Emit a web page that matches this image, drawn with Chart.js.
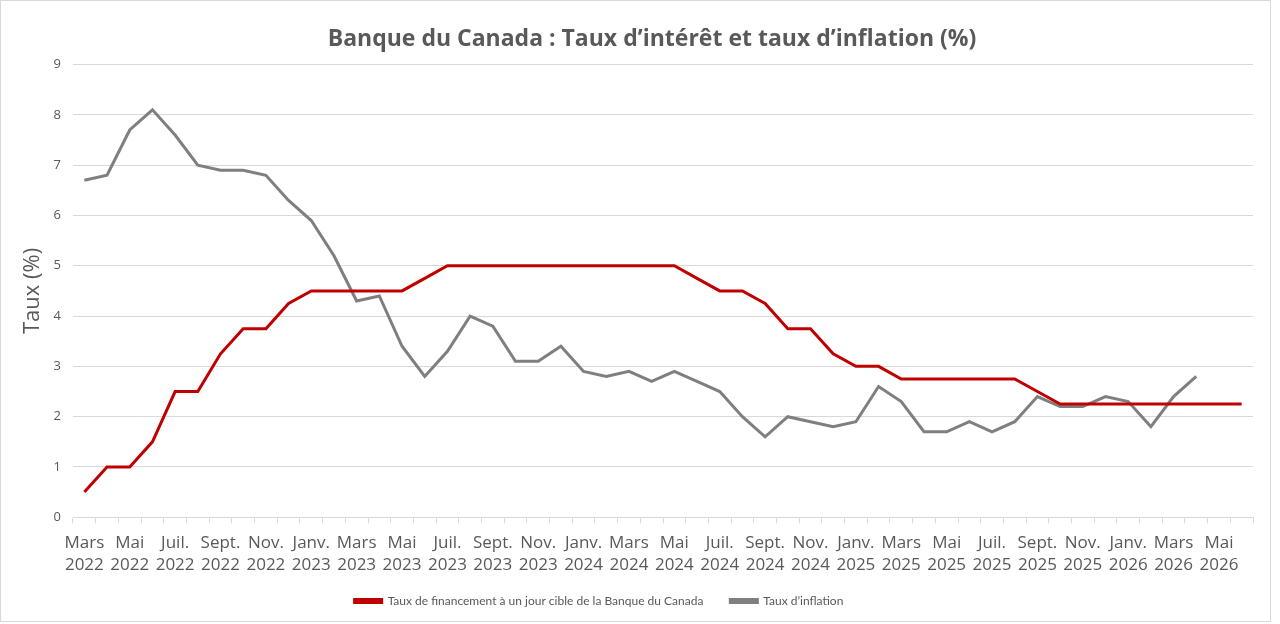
<!DOCTYPE html>
<html lang="fr">
<head>
<meta charset="utf-8">
<script src="https://cdn.jsdelivr.net/npm/chart.js@4"></script>
<style>
  html, body { margin: 0; padding: 0; background: #fff; }
  #wrap {
    position: absolute; left: 0; top: 0;
    width: 1271px; height: 622px;
    box-sizing: border-box;
    border: 1px solid #d9d9d9;
    background: #fff;
  }
</style>
</head>
<body>
<div id="wrap"><canvas id="rateChart" width="1269" height="620"></canvas></div>
<script>
// Months from Mars 2022 to Juin 2026
const months = [
    'Mars 2022', 'Avr. 2022', 'Mai 2022', 'Juin 2022', 'Juil. 2022', 'Août 2022', 'Sept. 2022', 'Oct. 2022', 'Nov. 2022', 'Déc. 2022',
    'Janv. 2023', 'Févr. 2023', 'Mars 2023', 'Avr. 2023', 'Mai 2023', 'Juin 2023', 'Juil. 2023', 'Août 2023', 'Sept. 2023', 'Oct. 2023', 'Nov. 2023', 'Déc. 2023',
    'Janv. 2024', 'Févr. 2024', 'Mars 2024', 'Avr. 2024', 'Mai 2024', 'Juin 2024', 'Juil. 2024', 'Août 2024', 'Sept. 2024', 'Oct. 2024', 'Nov. 2024', 'Déc. 2024',
    'Janv. 2025', 'Févr. 2025', 'Mars 2025', 'Avr. 2025', 'Mai 2025', 'Juin 2025', 'Juil. 2025', 'Août 2025', 'Sept. 2025', 'Oct. 2025', 'Nov. 2025', 'Déc. 2025',
    'Janv. 2026', 'Févr. 2026', 'Mars 2026', 'Avr. 2026', 'Mai 2026', 'Juin 2026'
];

// Taux de financement à un jour cible (%)
const policyRate = [
    0.5, 1.0, 1.0, 1.5, 2.5, 2.5, 3.25, 3.75, 3.75, 4.25,
    4.5, 4.5, 4.5, 4.5, 4.5, 4.75, 5.0, 5.0, 5.0, 5.0, 5.0, 5.0,
    5.0, 5.0, 5.0, 5.0, 5.0, 4.75, 4.5, 4.5, 4.25, 3.75, 3.75, 3.25,
    3.0, 3.0, 2.75, 2.75, 2.75, 2.75, 2.75, 2.75, 2.5, 2.25, 2.25, 2.25,
    2.25, 2.25, 2.25, 2.25, 2.25, 2.25
];

// Taux d'inflation (%)
const inflation = [
    6.7, 6.8, 7.7, 8.1, 7.6, 7.0, 6.9, 6.9, 6.8, 6.3,
    5.9, 5.2, 4.3, 4.4, 3.4, 2.8, 3.3, 4.0, 3.8, 3.1, 3.1, 3.4,
    2.9, 2.8, 2.9, 2.7, 2.9, 2.7, 2.5, 2.0, 1.6, 2.0, 1.9, 1.8,
    1.9, 2.6, 2.3, 1.7, 1.7, 1.9, 1.7, 1.9, 2.4, 2.2, 2.2, 2.4,
    2.3, 1.8, 2.4, 2.8, null, null
];

const textColor = '#595959';
const gridColor = '#d9d9d9';
const fontFamily = '"Open Sans", "DejaVu Sans", sans-serif';

// Excel places the title a bit right of centre and the legend a bit left
const nudgeBlocks = {
    id: 'nudgeBlocks',
    afterLayout(chart) {
        chart.titleBlock.left += 25;
        chart.titleBlock.right += 25;
        chart.legend.left -= 28;
        chart.legend.right -= 28;
    }
};

const ctx = document.getElementById('rateChart').getContext('2d');

new Chart(ctx, {
    type: 'line',
    data: {
        labels: months,
        datasets: [
            {
                label: 'Taux de financement à un jour cible de la Banque du Canada',
                data: policyRate,
                borderColor: '#c00000',
                backgroundColor: '#c00000',
                borderWidth: 3,
                pointRadius: 0,
                tension: 0
            },
            {
                label: 'Taux d\u2019inflation',
                data: inflation,
                borderColor: '#7f7f7f',
                backgroundColor: '#7f7f7f',
                borderWidth: 3,
                pointRadius: 0,
                tension: 0
            }
        ]
    },
    options: {
        responsive: false,
        animation: false,
        layout: {
            padding: { left: 0, right: 17, top: 10, bottom: 4 }
        },
        plugins: {
            title: {
                display: true,
                text: 'Banque du Canada : Taux d\u2019intérêt et taux d\u2019inflation (%)',
                color: textColor,
                font: { family: fontFamily, size: 23, weight: 'bold' },
                padding: { top: 15, bottom: 11 }
            },
            legend: {
                position: 'bottom',
                labels: {
                    color: textColor,
                    font: { family: 'Lato, "Open Sans", sans-serif', size: 12 },
                    boxWidth: 27,
                    boxHeight: 3,
                    padding: 17.75,
                    generateLabels: function (chart) {
                        const items = Chart.defaults.plugins.legend.labels.generateLabels(chart);
                        items[0].text += '   ';
                        return items;
                    }
                }
            },
            tooltip: { enabled: false }
        },
        scales: {
            x: {
                offset: true,
                afterFit: function (scale) { scale.height = 60; },
                grid: {
                    offset: true,
                    drawOnChartArea: false,
                    color: gridColor,
                    tickLength: 6
                },
                border: { color: gridColor },
                ticks: {
                    autoSkip: false,
                    maxRotation: 0,
                    color: textColor,
                    padding: 9,
                    font: { family: fontFamily, size: 17, lineHeight: 1.3 },
                    callback: function (value, index) {
                        return index % 2 === 0 ? months[index].split(' ') : '';
                    }
                }
            },
            y: {
                min: 0,
                max: 9,
                afterFit: function (scale) { scale.width = 72; },
                grid: { color: gridColor, drawTicks: false },
                border: { display: false },
                ticks: {
                    stepSize: 1,
                    color: textColor,
                    padding: 12,
                    font: { family: fontFamily, size: 13 }
                },
                title: {
                    display: true,
                    text: 'Taux (%)',
                    color: textColor,
                    font: { family: fontFamily, size: 22 },
                    padding: { top: 19, bottom: 4 }
                }
            }
        }
    },
    plugins: [nudgeBlocks]
});
</script>
</body>
</html>
